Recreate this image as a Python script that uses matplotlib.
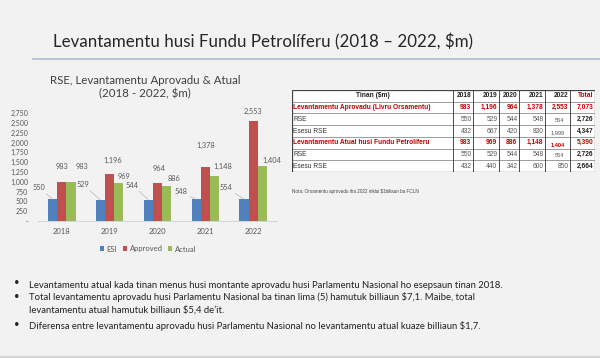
import numpy as np
import matplotlib
matplotlib.use('Agg')
import matplotlib.pyplot as plt
from matplotlib.patches import Rectangle
from matplotlib.ticker import FuncFormatter, MultipleLocator

# chart data ($m)
years = ['2018', '2019', '2020', '2021', '2022']
esi = [550, 529, 544, 548, 554]
approved = [983, 1196, 964, 1378, 2553]
actual = [983, 969, 886, 1148, 1404]
series_names = ['ESI', 'Approved', 'Actual']

# table data
table_header = ['Tinan ($m)', '2018', '2019', '2020', '2021', '2022', 'Total']
row_names = ['Levantamentu Aprovadu (Livru Orsamentu)', 'RSE', 'Esesu RSE',
             'Levantamentu Atual husi Fundu Petrolíferu', 'RSE', 'Esesu RSE']
row_values = [
    ['983', '1,196', '964', '1,378', '2,553', '7,073'],
    ['550', '529', '544', '548', '554', '2,726'],
    ['432', '667', '420', '830', '1,999', '4,347'],
    ['983', '969', '886', '1,148', '1,404', '5,390'],
    ['550', '529', '544', '548', '554', '2,726'],
    ['432', '440', '342', '600', '850', '2,664'],
]
red_rows = [0, 3]

title = 'Levantamentu husi Fundu Petrolíferu (2018 – 2022, $m)'
chart_title = 'RSE, Levantamentu Aprovadu & Atual\n(2018 - 2022, $m)'
note = 'Nota: Orsamentu aprovadu iha 2022 inklui $1biliaun ba FCLN'
bullets = [
    'Levantamentu atual kada tinan menus husi montante aprovadu husi Parlamentu Nasional ho esepsaun tinan 2018.',
    'Total levantamentu aprovadu husi Parlamentu Nasional ba tinan lima (5) hamutuk billiaun $7,1. Maibe, total\nlevantamentu atual hamutuk billiaun $5,4 de\u2019it.',
    'Diferensa entre levantamentu aprovadu husi Parlamentu Nasional no levantamentu atual kuaze billiaun $1,7.',
]

W, H = 600, 358
BLUE, RED, GREEN = '#4F81BD', '#C0504D', '#9BBB59'
DARKRED = '#C00000'
GRAY = '#595959'
FONT = 'Lato'


def fx(x):
    return x / W


def fy(y):
    return 1 - y / H


fig = plt.figure(figsize=(6, 3.58), dpi=100, facecolor='#f2f2f2')

# slide title + rule
fig.text(fx(53), fy(42), title, fontsize=12.2, family=FONT, color='#262626', va='center')
fig.add_artist(plt.Line2D([fx(33), 1], [fy(59), fy(59)], color='#b4c2cf', lw=1.3))
fig.add_artist(Rectangle((0, 0), 1, fy(356), color='#d6d6d6', transform=fig.transFigure))

# bar chart
ax = fig.add_axes([fx(38), fy(221), fx(277 - 38), (221 - 113) / H])
ax.set_facecolor('#f2f2f2')
x = np.arange(len(years))
bw = 0.19
for i, (vals, col) in enumerate(zip([esi, approved, actual], [BLUE, RED, GREEN])):
    ax.bar(x + (i - 1) * bw, vals, bw, color=col, label=series_names[i], zorder=2)
ax.set_xlim(-0.5, 4.5)
ax.set_ylim(0, 2750)
ax.yaxis.set_major_locator(MultipleLocator(250))
ax.yaxis.set_major_formatter(FuncFormatter(lambda v, p: '-' if v == 0 else f'{int(v):,}'))
for s in ['top', 'right', 'left']:
    ax.spines[s].set_visible(False)
ax.spines['bottom'].set_color('#d0d0d0')
ax.spines['bottom'].set_linewidth(0.6)
ax.tick_params(axis='y', length=0, labelsize=5, labelcolor=GRAY, pad=7)
ax.tick_params(axis='x', length=0, labelsize=5.5, labelcolor=GRAY, pad=5)
ax.set_xticks(x)
ax.set_xticklabels(years)
for lab in ax.get_xticklabels() + ax.get_yticklabels():
    lab.set_family(FONT)

# label offsets in points (dx, dy) per series per year
offs = {
    0: [(-10, 6), (-13, 9), (-12, 8), (-11, 3), (-13, 6)],
    1: [(0, 9), (2, 7), (1, 8), (0, 13), (0, 4)],
    2: [(8, 9), (4, 2), (5, 3), (6, 4), (7, 1)],
}
for i, vals in enumerate([esi, approved, actual]):
    for j, v in enumerate(vals):
        dx, dy = offs[i][j]
        ax.annotate(f'{v:,}', (x[j] + (i - 1) * bw, v), xytext=(dx, dy),
                    textcoords='offset points', ha='center', va='bottom',
                    fontsize=5.3, color=GRAY, family=FONT, annotation_clip=False,
                    arrowprops=dict(arrowstyle='-', color='#a6a6a6', lw=0.4,
                                    shrinkA=0, shrinkB=0) if i == 0 else None)

fig.text(fx(145), fy(87), chart_title, ha='center', va='center', fontsize=8.3,
         family=FONT, color='#404040', linespacing=1.25)
leg = fig.legend(*ax.get_legend_handles_labels(), loc='center', bbox_to_anchor=(fx(148), fy(249)),
                 ncol=3, frameon=False, fontsize=5.5, handlelength=0.6, handleheight=0.6,
                 handletextpad=0.3, columnspacing=0.7)
for t in leg.get_texts():
    t.set_color(GRAY)
    t.set_family(FONT)

# table
tx0, tx1, ty0, ty1 = 292, 595, 90, 172
tab = fig.add_axes([fx(tx0), fy(ty1), fx(tx1 - tx0), (ty1 - ty0) / H])
tab.set_xlim(tx0, tx1)
tab.set_ylim(ty1, ty0)
tab.axis('off')
tab.add_patch(Rectangle((tx0, ty0), tx1 - tx0, ty1 - ty0, facecolor='white', edgecolor='none'))
col_edges = [292, 453, 473, 499, 519, 545, 570, 595]
nrows = len(row_names) + 1
rh = (ty1 - ty0) / nrows
row_edges = [ty0 + k * rh for k in range(nrows + 1)]
tab.hlines(row_edges, tx0, tx1, color='#8c8c8c', lw=0.6)
tab.vlines(col_edges, ty0, ty1, color='#8c8c8c', lw=0.6)
tab.hlines([ty0, ty1], tx0, tx1, color='#404040', lw=0.9)
tab.vlines([tx0, tx1], ty0, ty1, color='#404040', lw=0.9)
tab.vlines(col_edges[1:-1], ty0, ty1, color='#404040', lw=0.6)

TF = 'Liberation Sans'
fs = 4.8
yc = row_edges[0] + rh / 2
tab.text((col_edges[0] + col_edges[1]) / 2, yc, table_header[0], ha='center', va='center',
         fontsize=fs, weight='bold', family=TF, color='#222222')
for c in range(1, 7):
    tab.text(col_edges[c + 1] - 1.5, yc, table_header[c], ha='right', va='center', fontsize=fs,
             weight='bold', family=TF, color=DARKRED if c == 6 else '#222222')
for r, name in enumerate(row_names):
    yc = row_edges[r + 1] + rh / 2
    red = r in red_rows
    tab.text(col_edges[0] + 1, yc, name, ha='left', va='center', fontsize=fs, family=TF,
             weight='bold' if red else 'normal', color=DARKRED if red else '#333333')
    for c, val in enumerate(row_values[r]):
        odd2022 = (c == 4 and r in (1, 2, 3, 4))
        tab.text(col_edges[c + 2] - 1.5 - (4 if odd2022 else 0), yc + (1.5 if odd2022 else 0), val,
                 ha='right', va='center', fontsize=fs - (0.7 if odd2022 else 0), family=TF,
                 weight='bold' if (red or c == 5) else 'normal',
                 color=DARKRED if red else ('#222222' if c == 5 else '#555555'))

fig.text(fx(292), fy(191), note, fontsize=3.3, family=TF, color='#444444', va='center')

# bullets
bfs = 6.8
line_y = [285, 298, 326]
for b, y in zip(bullets, line_y):
    fig.text(fx(14), fy(y - 2), '\u2022', fontsize=bfs, family=FONT, color='#222222', va='center')
    if '\n' in b:
        fig.text(fx(29), fy(y - 5.5), b, fontsize=bfs, family=FONT, color='#222222', va='top',
                 linespacing=1.45)
    else:
        fig.text(fx(29), fy(y), b, fontsize=bfs, family=FONT, color='#222222', va='center')

fig.savefig('out.png', dpi=100, facecolor=fig.get_facecolor())
